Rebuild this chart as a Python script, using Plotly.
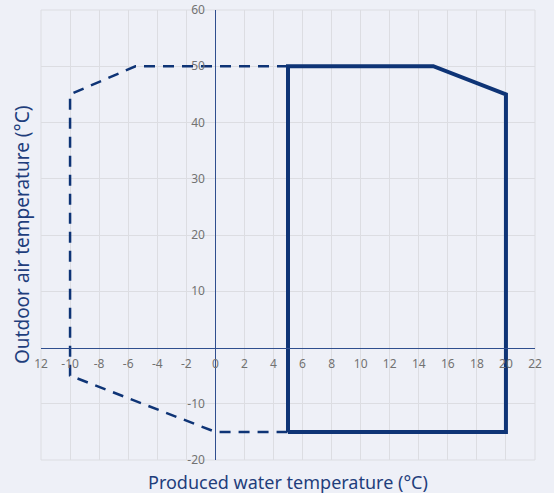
import plotly.graph_objects as go

# Operating envelope (solid) and extended envelope (dashed)
solid_x = [5, 5, 15, 20, 20, 5]
solid_y = [-15, 50, 50, 45, -15, -15]
dash_x = [5, -5.5, -10, -10, 0, 5]
dash_y = [50, 50, 45, -5, -15, -15]

x_tickvals = [-12, -10, -8, -6, -4, -2, 0, 2, 4, 6, 8, 10, 12, 14, 16, 18, 20, 22]
x_ticktext = ["12", "-10", "-8", "-6", "-4", "-2", "0", "2", "4", "6", "8", "10", "12", "14", "16", "18", "20", "22"]
y_tickvals = [-20, -10, 10, 20, 30, 40, 50, 60]
y_ticktext = ["-20", "-10", "10", "20", "30", "40", "50", "60"]

x_range = [-12, 22]
y_range = [-20, 60]

navy = "#0E3476"
axis_blue = "#2F4E8E"
bg = "#EEF0F7"
grid = "#DCDDE2"

fig = go.Figure()
fig.add_trace(go.Scatter(x=dash_x, y=dash_y, mode="lines",
                         line=dict(color=navy, width=2.5, dash="11px,8px"),
                         showlegend=False, hoverinfo="skip"))
fig.add_trace(go.Scatter(x=solid_x, y=solid_y, mode="lines",
                         line=dict(color=navy, width=4),
                         showlegend=False, hoverinfo="skip"))

x_pos = (0 - y_range[0]) / (y_range[1] - y_range[0])
y_pos = (0 - x_range[0]) / (x_range[1] - x_range[0])

fig.update_layout(
    width=554, height=493,
    margin=dict(l=41, r=19, t=10, b=33),
    paper_bgcolor=bg, plot_bgcolor=bg,
    font=dict(family="Noto Sans, Open Sans, sans-serif"),
    xaxis=dict(range=x_range, tickvals=x_tickvals, ticktext=x_ticktext,
               anchor="free", position=x_pos, showline=True, linecolor=axis_blue,
               linewidth=1, zeroline=False, showgrid=True, gridcolor=grid, gridwidth=1,
               ticks="", tickfont=dict(size=12, color="#727272"), fixedrange=True,
               automargin=False, ticklabelstandoff=5),
    yaxis=dict(range=y_range, tickvals=y_tickvals, ticktext=y_ticktext,
               anchor="free", position=y_pos, showline=True, linecolor=axis_blue,
               linewidth=1, zeroline=False, showgrid=True, gridcolor=grid, gridwidth=1,
               ticks="", tickfont=dict(size=12, color="#727272"), fixedrange=True,
               automargin=False, ticklabelstandoff=8),
    shapes=[dict(type="rect", xref="paper", yref="paper", x0=0, x1=1, y0=0, y1=1,
                 line=dict(color=grid, width=1), layer="below")],
    annotations=[
        dict(text="Produced water temperature (°C)", xref="paper", yref="paper",
             x=0.5, y=0, yshift=-8, showarrow=False, yanchor="top", xanchor="center",
             font=dict(size=18, color="#1F3E7C")),
        dict(text="Outdoor air temperature (°C)", xref="paper", yref="paper",
             x=0, y=0.5, xshift=-19, showarrow=False, textangle=-90,
             xanchor="center", yanchor="middle",
             font=dict(size=19, color="#1F3E7C")),
    ],
)

fig.write_html("out.html", config={"displayModeBar": False},
               post_script="document.body.style.margin='0';document.body.style.background='#EEF0F7';")
